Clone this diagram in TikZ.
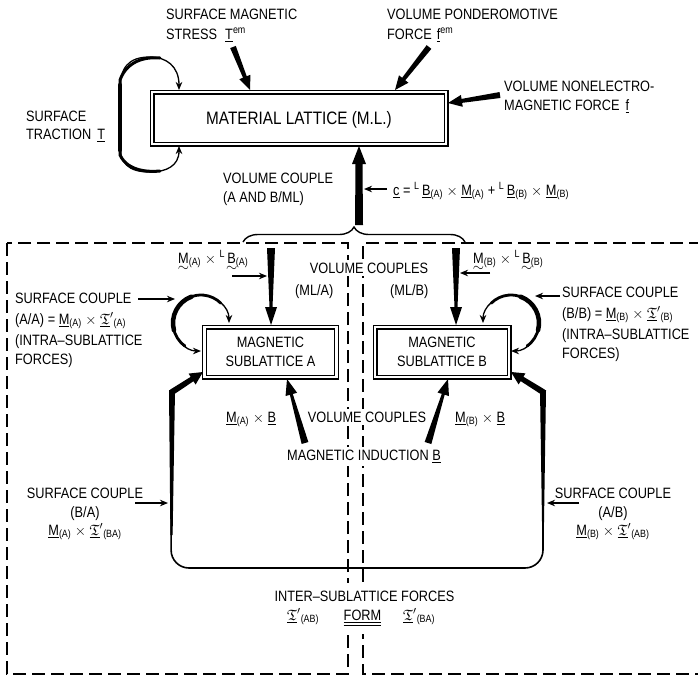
\documentclass[tikz,border=0pt]{standalone}
\usepackage{fontspec}
\setmainfont{Liberation Sans}[FakeStretch=0.85]
\usepackage{amssymb}
\usetikzlibrary{arrows.meta,calc,decorations.pathreplacing}
\newcommand\Tp[1]{\underline{$\mathfrak{T}$}$'$\textsubscript{#1}}
\newcommand\utl[1]{\setbox0\hbox{#1}\leavevmode\rlap{\hbox to\wd0{\hss\raisebox{-8.5pt}{$\sim$}\hss}}#1}
\newcommand\taper[6]{%
  \coordinate (tpn) at ($(#2)!#5!(#1)$);
  \fill ($(#1)!#3!90:(#2)$) -- ($(tpn)!#4!-90:(#1)$) -- ($(tpn)!#6!-90:(#1)$) -- (#2) -- ($(tpn)!#6!90:(#1)$) -- ($(tpn)!#4!90:(#1)$) -- ($(#1)!#3!-90:(#2)$) -- cycle;}
\tikzset{
  lab/.style={inner sep=0pt, font=\fontsize{15}{20}\selectfont},
  wlab/.style={lab, fill=white, inner xsep=2pt, inner ysep=3pt},
  dbox/.style={draw, double, line width=1.2pt, double distance=2.6pt, inner sep=0pt},
  thinarr/.style={line width=1.1pt, -{Stealth[length=8pt, width=6.5pt, inset=2.5pt]}},
  looparr/.style={line width=1.3pt, {Stealth[length=8pt, width=6.5pt, inset=2.5pt]}-{Stealth[length=8pt, width=6.5pt, inset=2.5pt]}},
  dashbox/.style={line width=2pt, dash pattern=on 13pt off 6pt}
}
\begin{document}
\begin{tikzpicture}[x=1pt,y=1pt]
\useasboundingbox (0,0) rectangle (698,-678);

% dashed regions
\draw[dashbox] (7,-243) rectangle (348,-674);
\draw[dashbox] (702,-243) -- (363,-243) -- (363,-674) -- (702,-674);

% boxes
\node[dbox, minimum width=294pt, minimum height=52pt, text depth=0pt, font=\fontsize{18}{22}\selectfont] (ML) at (299,-118) {MATERIAL LATTICE (M.L.)};
\node[dbox, minimum width=132pt, minimum height=50pt, align=center, font=\fontsize{15}{19}\selectfont] (SA) at (270.5,-352) {MAGNETIC\\SUBLATTICE A};
\node[dbox, minimum width=134pt, minimum height=50pt, align=center, font=\fontsize{15}{19}\selectfont] (SB) at (442,-352) {MAGNETIC\\SUBLATTICE B};

% top labels
\node[lab, anchor=base west] (sms1) at (166,-19) {SURFACE MAGNETIC};
\node[lab, anchor=base west] (sms2) at (166,-39) {STRESS\hspace{8pt}\underline{T}\textsuperscript{em}};
\node[lab, anchor=base west] (vpf1) at (387,-19) {VOLUME PONDEROMOTIVE};
\node[lab, anchor=base west] (vpf2) at (387,-39) {FORCE\hspace{5pt}\underline{f}\textsuperscript{em}};
\node[lab, anchor=base west] (vnf1) at (504,-91) {VOLUME NONELECTRO-};
\node[lab, anchor=base west] (vnf2) at (504,-110) {MAGNETIC FORCE\hspace{6pt}\underline{f}};
\node[lab, anchor=base west] (st1) at (26,-121) {SURFACE};
\node[lab, anchor=base west] (st2) at (26,-139) {TRACTION\hspace{6pt}\underline{T}};
\node[lab, anchor=base west] (vc1) at (223,-183) {VOLUME COUPLE};
\node[lab, anchor=base west] (vc2) at (223,-202) {(A AND B/ML)};
\node[lab, anchor=base west] (ceq) at (393,-195) {\underline{c} = \textsuperscript{L}\,\underline{B}\textsubscript{(A)} $\times$ \underline{M}\textsubscript{(A)} + \textsuperscript{L}\,\underline{B}\textsubscript{(B)} $\times$ \underline{M}\textsubscript{(B)}};

% middle labels
\node[lab, anchor=base west] (mla) at (178,-263) {\utl{M}\textsubscript{(A)} $\times$ \textsuperscript{L}\,\utl{B}\textsubscript{(A)}};
\node[lab, anchor=base west] (mlb) at (473,-263) {\utl{M}\textsubscript{(B)} $\times$ \textsuperscript{L}\,\utl{B}\textsubscript{(B)}};
\node[wlab, anchor=base] (vcs) at (369,-273) {VOLUME COUPLES};
\node[lab, anchor=base west] (mlA) at (295,-295) {(ML/A)};
\node[lab, anchor=base west] (mlB) at (390,-295) {(ML/B)};

\node[lab, anchor=base west] (aa1) at (15,-303) {SURFACE COUPLE};
\node[lab, anchor=base west] (aa2) at (15,-324) {(A/A) = \underline{M}\textsubscript{(A)} $\times$ \Tp{(A)}};
\node[lab, anchor=base west] (aa3) at (15,-345) {(INTRA–SUBLATTICE};
\node[lab, anchor=base west] (aa4) at (15,-364) {FORCES)};

\node[lab, anchor=base west] (bb1) at (562,-297) {SURFACE COUPLE};
\node[lab, anchor=base west] (bb2) at (562,-318) {(B/B) = \underline{M}\textsubscript{(B)} $\times$ \Tp{(B)}};
\node[lab, anchor=base west] (bb3) at (562,-339) {(INTRA–SUBLATTICE};
\node[lab, anchor=base west] (bb4) at (562,-358) {FORCES)};

\node[lab, anchor=base west] (mab) at (226,-422) {\underline{M}\textsubscript{(A)} $\times$ \underline{B}};
\node[wlab, anchor=base] (vcs2) at (367,-422) {VOLUME COUPLES};
\node[lab, anchor=base west] (mbb) at (455,-422) {\underline{M}\textsubscript{(B)} $\times$ \underline{B}};
\node[wlab, anchor=base] (mib) at (364,-460) {MAGNETIC INDUCTION \underline{B}};

\node[lab, anchor=base] (ba1) at (85,-498) {SURFACE COUPLE};
\node[lab, anchor=base] (ba2) at (85,-517) {(B/A)};
\node[lab, anchor=base] (ba3) at (85,-535) {\underline{M}\textsubscript{(A)} $\times$ \Tp{(BA)}};
\node[lab, anchor=base] (ab1) at (613,-498) {SURFACE COUPLE};
\node[lab, anchor=base] (ab2) at (613,-517) {(A/B)};
\node[lab, anchor=base] (ab3) at (613,-535) {\underline{M}\textsubscript{(B)} $\times$ \Tp{(AB)}};

\node[wlab, anchor=base, inner ysep=8pt] (isf) at (364.5,-601) {INTER–SUBLATTICE FORCES};
\node[lab, anchor=base west] (tab) at (287,-620) {\Tp{(AB)}};
\node[wlab, anchor=base, inner ysep=8pt] (form) at (362.5,-620) {$\underline{\underline{\hbox{FORM}}}$};
\node[lab, anchor=base west] (tba) at (403,-620) {\Tp{(BA)}};

% coordinates for connectors
\coordinate (smsT) at (233,-47);  \coordinate (smsH) at (250,-90);
\coordinate (vpfT) at (429,-47);  \coordinate (vpfH) at (395,-90);
\coordinate (vnfT) at (500,-95);  \coordinate (vnfH) at (448,-103);
\coordinate (vcT) at (359,-225);  \coordinate (vcH) at (359,-146);
\coordinate (saT) at (271,-248);  \coordinate (saH) at (271,-325);
\coordinate (sbT) at (456,-248);  \coordinate (sbH) at (456,-325);
\coordinate (miA) at (305,-443);  \coordinate (miAH) at (287,-379);
\coordinate (miB) at (428,-443);  \coordinate (miBH) at (448,-379);
\coordinate (lj) at (172,-392);   \coordinate (ltip) at (203,-372);
\coordinate (rj) at (543,-392);   \coordinate (rtip) at (511,-372);
\coordinate (cA) at (201,-323);   \coordinate (cB) at (511,-323);

% thick tapered arrows
\taper{smsT}{smsH}{3pt}{2pt}{14pt}{6pt}
\taper{vpfT}{vpfH}{3pt}{2pt}{14pt}{6pt}
\taper{vnfT}{vnfH}{3pt}{2pt}{14pt}{6pt}
\taper{vcT}{vcH}{4pt}{3.5pt}{18pt}{7pt}
\taper{saT}{saH}{4pt}{1.5pt}{18pt}{6pt}
\taper{sbT}{sbH}{4pt}{1.5pt}{18pt}{6pt}
\taper{miA}{miAH}{3.5pt}{1.5pt}{16pt}{6pt}
\taper{miB}{miBH}{3.5pt}{1.5pt}{16pt}{6pt}

% brace
\draw[line width=1.4pt, decorate, decoration={brace, amplitude=15pt}] (243,-242) -- (465,-242);

% surface traction loop
\draw[looparr] (179,-146) .. controls (179,-166) and (166,-172) .. (150,-172)
  .. controls (128,-172) and (120,-163) .. (120,-145) -- (120,-90)
  .. controls (120,-68) and (128,-57) .. (150,-57)
  .. controls (166,-57) and (179,-66) .. (179,-90);
\draw[line width=3pt, line cap=round] (160,-171) .. controls (150,-172) and (128,-172) .. (120,-155) -- (120,-80) .. controls (128,-58) and (150,-57) .. (160,-58);
\draw[line width=4.5pt, line cap=round] (120,-150) -- (120,-85);

% intra loops
\draw[looparr] ($(cA)+(270:28pt)$) arc[start angle=270, end angle=0, radius=28pt];
\draw[line width=2.8pt, line cap=round] ($(cA)+(235:28pt)$) arc[start angle=235, end angle=45, radius=28pt];
\draw[line width=4.5pt, line cap=round] ($(cA)+(195:28pt)$) arc[start angle=195, end angle=110, radius=28pt];
\draw[looparr] ($(cB)+(-90:28pt)$) arc[start angle=-90, end angle=180, radius=28pt];
\draw[line width=2.8pt, line cap=round] ($(cB)+(-55:28pt)$) arc[start angle=-55, end angle=135, radius=28pt];
\draw[line width=4.5pt, line cap=round] ($(cB)+(-15:28pt)$) arc[start angle=-15, end angle=70, radius=28pt];

% inter-sublattice loop
\draw[line width=1.6pt, rounded corners=18pt] (lj) -- (171,-568) -- (543,-568) -- (rj);
\fill (169,-390) -- (175,-390) -- (172.6,-535) -- (170.4,-535) -- cycle;
\fill (540,-390) -- (546,-390) -- (543.8,-535) -- (542.2,-535) -- cycle;
\fill (lj) circle (3pt);
\fill (rj) circle (3pt);
\taper{lj}{ltip}{3pt}{2.6pt}{13pt}{6.5pt}
\taper{rj}{rtip}{3pt}{2.6pt}{13pt}{6.5pt}

% thin label arrows
\coordinate (cAr) at (387,-189); \coordinate (cArH) at (364,-189);
\draw[thinarr] (cAr) -- (cArH);
\coordinate (mlaS) at (232,-276); \coordinate (mlaE) at (267,-276);
\draw[thinarr] (mlaS) -- (mlaE);
\coordinate (mlbS) at (490,-273); \coordinate (mlbE) at (460,-273);
\draw[thinarr] (mlbS) -- (mlbE);
\coordinate (aaS) at (138,-299); \coordinate (aaE) at (175,-299);
\draw[thinarr] (aaS) -- (aaE);
\coordinate (bbS) at (560,-296); \coordinate (bbE) at (535,-296);
\draw[thinarr] (bbS) -- (bbE);
\coordinate (baS) at (135,-503); \coordinate (baE) at (168,-503);
\draw[thinarr] (baS) -- (baE);
\coordinate (abS) at (579,-503); \coordinate (abE) at (547,-503);
\draw[thinarr] (abS) -- (abE);
\end{tikzpicture}
\end{document}
